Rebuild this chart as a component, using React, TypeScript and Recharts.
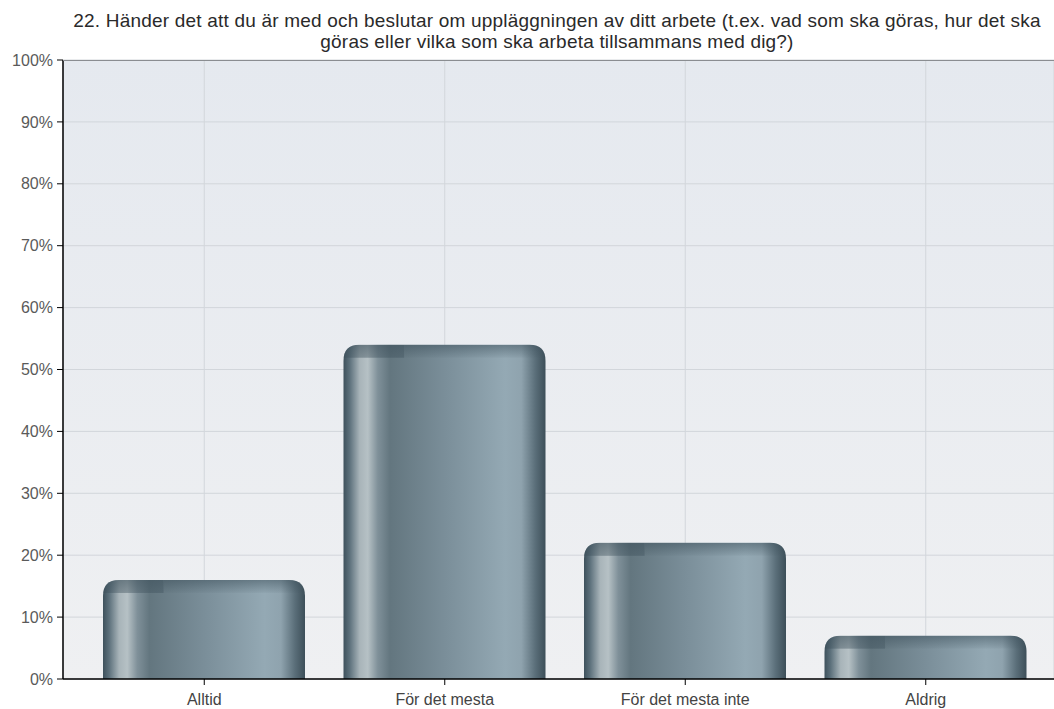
import { BarChart, Bar, XAxis, YAxis, CartesianGrid } from "recharts";

const categories = ["Alltid", "För det mesta", "För det mesta inte", "Aldrig"];
const shares = [16, 54, 22, 7];
const yTicks = [0, 10, 20, 30, 40, 50, 60, 70, 80, 90, 100];
const titleLines = [
  "22. Händer det att du är med och beslutar om uppläggningen av ditt arbete (t.ex. vad som ska göras, hur det ska",
  "göras eller vilka som ska arbeta tillsammans med dig?)",
];

const data = categories.map((name, i) => ({ name, value: shares[i] }));

function TubeBar(props: any) {
  const { x, y, width, height } = props;
  if (!height || height <= 0) return null;
  const r = Math.min(16, height, width / 2);
  const b = y + height;
  const path = `M${x},${b} L${x},${y + r} Q${x},${y} ${x + r},${y} L${x + width - r},${y} Q${x + width},${y} ${x + width},${y + r} L${x + width},${b} Z`;
  const cap = Math.min(13, height);
  const clipId = `clip-${Math.round(x)}`;
  return (
    <g>
      <clipPath id={clipId}>
        <path d={path} />
      </clipPath>
      <path d={path} fill="url(#tubeGrad)" />
      <rect
        x={x}
        y={y}
        width={width * 0.3}
        height={cap}
        fill="url(#capLeft)"
        clipPath={`url(#${clipId})`}
      />
      <rect
        x={x + width * 0.3}
        y={y}
        width={width * 0.7}
        height={cap}
        fill="url(#capFade)"
        clipPath={`url(#${clipId})`}
      />
    </g>
  );
}

export default function App() {
  return (
    <div
      style={{
        position: "absolute",
        left: 0,
        top: 0,
        width: 1054,
        height: 709,
        overflow: "hidden",
        background: "#fff",
        fontFamily: "'Liberation Sans', Arial, sans-serif",
      }}
    >
      <div
        style={{
          position: "absolute",
          left: 0,
          width: 1114,
          top: 10,
          textAlign: "center",
          fontSize: 19,
          lineHeight: "21px",
          color: "#2a2a2a",
          letterSpacing: 0.2,
        }}
      >
        {titleLines.map((t) => (
          <div key={t} style={{ whiteSpace: "nowrap" }}>
            {t}
          </div>
        ))}
      </div>
      <BarChart
        width={1054}
        height={709}
        data={data}
        margin={{ top: 60, right: 0, left: 0, bottom: 0 }}
        barSize={202}
      >
        <defs>
          <linearGradient id="plotBg" x1="0" y1="0" x2="0" y2="1">
            <stop offset="0%" stopColor="#e5e9ef" />
            <stop offset="100%" stopColor="#eff0f2" />
          </linearGradient>
          <linearGradient id="tubeGrad" x1="0" y1="0" x2="1" y2="0">
            <stop offset="0%" stopColor="#3e515c" />
            <stop offset="3%" stopColor="#5c707b" />
            <stop offset="8%" stopColor="#a8b4b9" />
            <stop offset="12%" stopColor="#b6c1c5" />
            <stop offset="17%" stopColor="#7f9099" />
            <stop offset="23%" stopColor="#63767f" />
            <stop offset="50%" stopColor="#7a8e99" />
            <stop offset="80%" stopColor="#94a9b4" />
            <stop offset="88%" stopColor="#8fa3ae" />
            <stop offset="95%" stopColor="#5a6e79" />
            <stop offset="100%" stopColor="#3d4f59" />
          </linearGradient>
          <linearGradient id="capLeft" x1="0" y1="0" x2="0" y2="1">
            <stop offset="0%" stopColor="#3c4f5a" stopOpacity={0.6} />
            <stop offset="100%" stopColor="#3c4f5a" stopOpacity={0.4} />
          </linearGradient>
          <linearGradient id="capFade" x1="0" y1="0" x2="0" y2="1">
            <stop offset="0%" stopColor="#3c4f5a" stopOpacity={0.5} />
            <stop offset="100%" stopColor="#3c4f5a" stopOpacity={0.05} />
          </linearGradient>
        </defs>
        <CartesianGrid stroke="#d2d6db" fill="url(#plotBg)" />
        <XAxis
          dataKey="name"
          height={30}
          padding={{ left: 21, right: 8 }}
          axisLine={{ stroke: "#000", strokeWidth: 1.5 }}
          tickLine={{ stroke: "#000" }}
          tickSize={6}
          tickMargin={9}
          tick={{ fill: "#444", fontSize: 16 }}
          interval={0}
        />
        <YAxis
          width={63}
          domain={[0, 100]}
          ticks={yTicks}
          tickFormatter={(v) => `${v}%`}
          axisLine={{ stroke: "#000", strokeWidth: 1.5 }}
          tickLine={{ stroke: "#000" }}
          tickSize={6}
          tickMargin={4}
          tick={{ fill: "#5a5a5a", fontSize: 16 }}
          interval={0}
        />
        <Bar dataKey="value" shape={TubeBar} isAnimationActive={false} />
      </BarChart>
      <div
        style={{
          position: "absolute",
          left: 63,
          top: 60,
          width: 991,
          height: 1,
          background: "#8a8d91",
        }}
      />
    </div>
  );
}
